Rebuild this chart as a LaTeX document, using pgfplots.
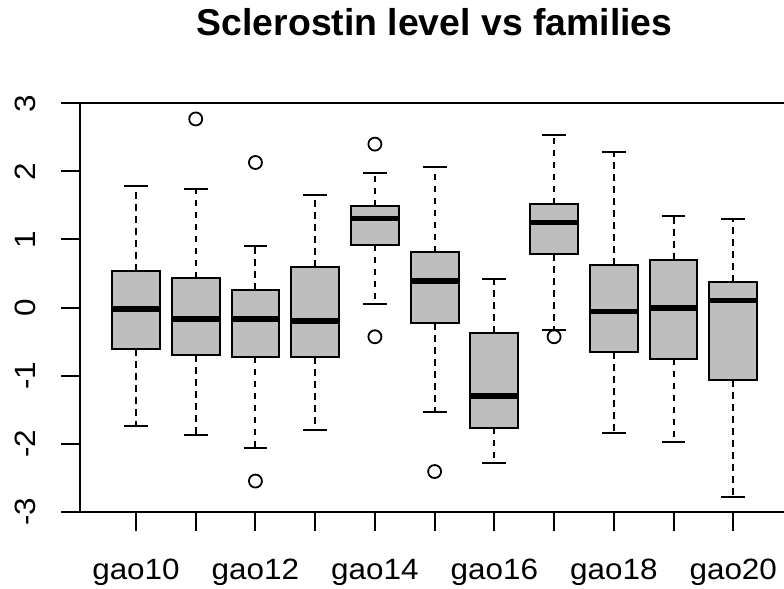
\documentclass[border=0pt]{standalone}
\usepackage{pgfplots}
\pgfplotsset{compat=1.18}
\usepgfplotslibrary{statistics}
\usepackage{fontspec}
\setmainfont{Liberation Sans}
\newfontfamily\tickfont[FakeStretch=1.07]{Liberation Sans}
\definecolor{boxgray}{HTML}{BEBEBE}
\begin{document}
\begin{tikzpicture}
\begin{axis}[
  scale only axis,
  clip=false,
  width=709.55bp, height=408.4bp,
  xmin=0.06, xmax=11.94, ymin=-3, ymax=3,
  xtick={1,...,11},
  xticklabels={gao10,,gao12,,gao14,,gao16,,gao18,,gao20},
  ytick={-3,-2,-1,0,1,2,3},
  yticklabels={-3,-2,-1,0,1,2,3},
  xtick pos=bottom, ytick pos=left,
  tick align=outside,
  major tick length=19bp,
  every tick/.style={black, line width=2bp},
  axis line style={black, line width=1.8bp},
  tick label style={font=\tickfont\fontsize{29.5}{30}\selectfont, inner sep=0pt},
  xticklabel style={anchor=base, yshift=-48.6bp},
  yticklabel style={xshift=-24.85bp, rotate=90, anchor=base},
  title={Sclerostin level vs families},
  title style={font=\fontsize{37.5}{40}\selectfont\bfseries, anchor=base, at={(0.5,1)}, yshift=61.8bp, inner sep=0pt},
  boxplot/draw direction=y,
  boxplot/box extend=0.8,
  boxplot/whisker extend=0.4,
  boxplot/draw/box/.code={\draw[fill=boxgray, draw=black, line width=2bp] (boxplot box cs:\pgfplotsboxplotvalue{lower quartile},0) rectangle (boxplot box cs:\pgfplotsboxplotvalue{upper quartile},1);},
  boxplot/draw/median/.code={\draw[draw=black, line width=5.5bp] (boxplot box cs:\pgfplotsboxplotvalue{median},0) -- (boxplot box cs:\pgfplotsboxplotvalue{median},1);},
  boxplot/draw/lower whisker/.code={\draw[draw=black, line width=2bp, dash pattern=on 6.5bp off 5.5bp] (boxplot box cs:\pgfplotsboxplotvalue{lower quartile},0.5) -- (boxplot box cs:\pgfplotsboxplotvalue{lower whisker},0.5); \draw[draw=black, line width=2bp, solid] (boxplot whisker cs:\pgfplotsboxplotvalue{lower whisker},0) -- (boxplot whisker cs:\pgfplotsboxplotvalue{lower whisker},1);},
  boxplot/draw/upper whisker/.code={\draw[draw=black, line width=2bp, dash pattern=on 6.5bp off 5.5bp] (boxplot box cs:\pgfplotsboxplotvalue{upper quartile},0.5) -- (boxplot box cs:\pgfplotsboxplotvalue{upper whisker},0.5); \draw[draw=black, line width=2bp, solid] (boxplot whisker cs:\pgfplotsboxplotvalue{upper whisker},0) -- (boxplot whisker cs:\pgfplotsboxplotvalue{upper whisker},1);},
  every axis plot/.append style={black, mark=o, mark size=6.5bp, mark options={solid, draw=black, line width=1.8bp}},
]
% gao10
\addplot[boxplot prepared={draw position=1, lower whisker=-1.74, lower quartile=-0.61, median=-0.02, upper quartile=0.54, upper whisker=1.78}] coordinates {};
% gao11
\addplot[boxplot prepared={draw position=2, lower whisker=-1.88, lower quartile=-0.70, median=-0.17, upper quartile=0.43, upper whisker=1.74}] coordinates {(0,2.77)};
% gao12
\addplot[boxplot prepared={draw position=3, lower whisker=-2.07, lower quartile=-0.72, median=-0.17, upper quartile=0.26, upper whisker=0.91}] coordinates {(0,2.13) (0,-2.55)};
% gao13
\addplot[boxplot prepared={draw position=4, lower whisker=-1.80, lower quartile=-0.73, median=-0.20, upper quartile=0.60, upper whisker=1.65}] coordinates {};
% gao14
\addplot[boxplot prepared={draw position=5, lower whisker=0.05, lower quartile=0.92, median=1.31, upper quartile=1.49, upper whisker=1.97}] coordinates {(0,2.40) (0,-0.43)};
% gao15
\addplot[boxplot prepared={draw position=6, lower whisker=-1.54, lower quartile=-0.23, median=0.39, upper quartile=0.81, upper whisker=2.07}] coordinates {(0,-2.41)};
% gao16
\addplot[boxplot prepared={draw position=7, lower whisker=-2.29, lower quartile=-1.77, median=-1.30, upper quartile=-0.37, upper whisker=0.42}] coordinates {};
% gao17
\addplot[boxplot prepared={draw position=8, lower whisker=-0.33, lower quartile=0.78, median=1.25, upper quartile=1.52, upper whisker=2.54}] coordinates {(0,-0.43)};
% gao18
\addplot[boxplot prepared={draw position=9, lower whisker=-1.84, lower quartile=-0.66, median=-0.06, upper quartile=0.63, upper whisker=2.29}] coordinates {};
% gao19
\addplot[boxplot prepared={draw position=10, lower whisker=-1.97, lower quartile=-0.75, median=-0.01, upper quartile=0.70, upper whisker=1.34}] coordinates {};
% gao20
\addplot[boxplot prepared={draw position=11, lower whisker=-2.78, lower quartile=-1.07, median=0.10, upper quartile=0.38, upper whisker=1.30}] coordinates {};
% R's x axis line, drawn from the first to the last tick
\addplot[black, mark=none, line width=2.4bp, forget plot] coordinates {(1,-3) (11,-3)};
\coordinate (BL) at (rel axis cs:0,0);
\end{axis}
\pgfresetboundingbox
\path[use as bounding box] ([shift={(-79.85bp,-77.3bp)}]BL) rectangle ++(784bp,589bp);
\end{tikzpicture}
\end{document}
